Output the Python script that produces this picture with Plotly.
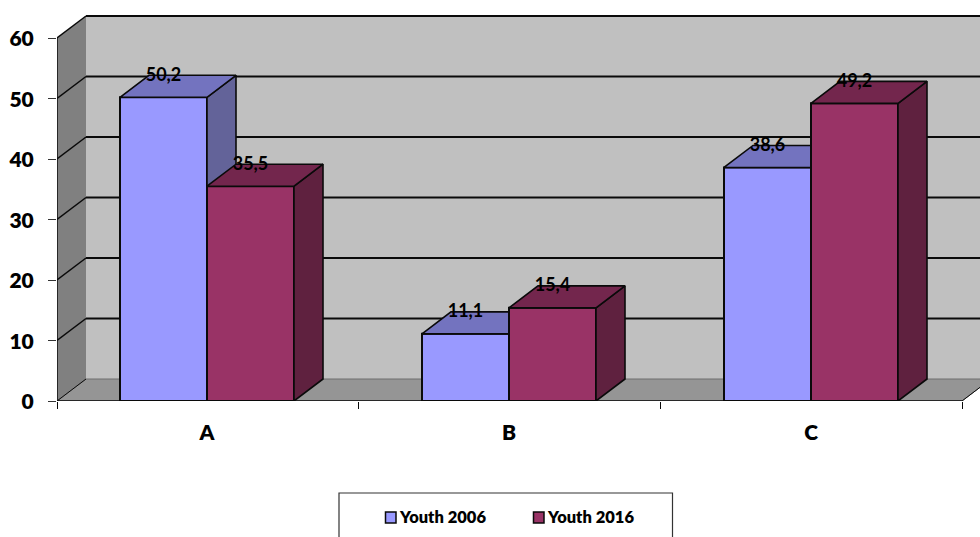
import plotly.graph_objects as go

categories = ["A", "B", "C"]
youth_2006 = [50.2, 11.1, 38.6]
youth_2016 = [35.5, 15.4, 49.2]
value_ticks = [0, 10, 20, 30, 40, 50, 60]
series_names = ["Youth 2006", "Youth 2016"]

WIDTH, HEIGHT = 980, 537
LEFT, TOP, BOTTOM = 57, 10, 136
PX_PER_CAT = 302
PX_PER_VAL = 6.05
BAR_W = 87 / PX_PER_CAT
DX = 29 / PX_PER_CAT   # horizontal depth of the box, in category units
DY = 22 / PX_PER_VAL   # vertical depth of the box, in value units
X0, X1 = -150 / PX_PER_CAT, 2.5
XRANGE = [X0, X0 + (WIDTH - LEFT) / PX_PER_CAT]
YRANGE = [0, (HEIGHT - TOP - BOTTOM) / PX_PER_VAL]
PLOT_W, PLOT_H = WIDTH - LEFT, HEIGHT - TOP - BOTTOM

FONT = "Lato, 'Liberation Sans', sans-serif"
INK = "#0a0a0a"
FILLS_2006 = ("#9999FF", "#636399", "#7373BF")
FILLS_2016 = ("#993366", "#5F213F", "#73264D")


def poly(points):
    return "M" + "L".join(f"{x},{y}" for x, y in points) + "Z"


def faces(values, left_offset):
    """Outlines of the side and top faces of each bar in a series."""
    sx, sy, tx, ty = [], [], [], []
    for i, v in enumerate(values):
        l = i + left_offset
        r = l + BAR_W
        sx += [r, r + DX, r + DX, r, r, None]
        sy += [0, DY, v + DY, v, 0, None]
        tx += [l, l + DX, r + DX, r, l, None]
        ty += [v, v + DY, v + DY, v, v, None]
    return sx, sy, tx, ty


fig = go.Figure()


def add_series(name, values, fills, left_offset, xa, ya):
    fig.add_trace(go.Bar(
        name=name, x=list(range(len(values))), y=values,
        width=BAR_W, offset=left_offset, xaxis=xa, yaxis=ya,
        marker=dict(color=fills[0], line=dict(color=INK, width=2)),
        hoverinfo="skip", showlegend=False,
    ))
    sx, sy, tx, ty = faces(values, left_offset)
    for px, py, color in ((sx, sy, fills[1]), (tx, ty, fills[2])):
        fig.add_trace(go.Scatter(
            x=px, y=py, mode="lines", fill="toself", fillcolor=color,
            line=dict(color=INK, width=1.6), xaxis=xa, yaxis=ya,
            hoverinfo="skip", showlegend=False, cliponaxis=False,
        ))


# The later series sits on an overlaid subplot so its front face hides the
# side face of the bar to its left.
add_series(series_names[0], youth_2006, FILLS_2006, -BAR_W, "x", "y")
add_series(series_names[1], youth_2016, FILLS_2016, 0, "x2", "y2")

for values, offset in ((youth_2006, -BAR_W), (youth_2016, 0)):
    fig.add_trace(go.Scatter(
        x=[i + offset + BAR_W / 2 for i in range(len(values))],
        y=[v + DY - 0.15 for v in values],
        text=[f"{v:.1f}".replace(".", ",") for v in values],
        mode="text", textposition="middle center",
        textfont=dict(family=FONT, size=18, color="#000", weight="bold"),
        xaxis="x2", yaxis="y2", hoverinfo="skip", showlegend=False,
        cliponaxis=False,
    ))

# Box walls, floor and gridlines behind the bars
top = value_ticks[-1]
shapes = [
    dict(type="path", xref="x", yref="y", layer="below", line_width=0, fillcolor="#C0C0C0",
         path=poly([(X0 + DX, DY), (X1 + DX, DY), (X1 + DX, top + DY), (X0 + DX, top + DY)])),
    dict(type="path", xref="x", yref="y", layer="below", line_width=0, fillcolor="#808080",
         path=poly([(X0, 0), (X0 + DX, DY), (X0 + DX, top + DY), (X0, top)])),
    dict(type="path", xref="x", yref="y", layer="below", fillcolor="#959595",
         line=dict(color="#6e6e6e", width=1),
         path=poly([(X0, 0), (X1, 0), (X1 + DX, DY), (X0 + DX, DY)])),
    dict(type="line", xref="x", yref="y", layer="below", x0=X0, y0=0, x1=X0 + DX, y1=DY,
         line=dict(color=INK, width=1)),
    dict(type="line", xref="x", yref="y", layer="below", x0=X1, y0=0, x1=X1 + DX, y1=DY,
         line=dict(color=INK, width=1)),
    dict(type="line", xref="x", yref="y", layer="above", x0=X0, y0=0, x1=X1, y1=0,
         line=dict(color=INK, width=1.5)),
    dict(type="line", xref="x", yref="y", layer="above", x0=X0, y0=0, x1=X0, y1=top,
         line=dict(color=INK, width=1.5)),
]
for v in value_ticks[1:]:
    shapes.append(dict(type="line", xref="x", yref="y", layer="below",
                       x0=X0, y0=v, x1=X0 + DX, y1=v + DY, line=dict(color=INK, width=1.5)))
    shapes.append(dict(type="line", xref="x", yref="y", layer="below",
                       x0=X0 + DX, y0=v + DY, x1=X1 + DX, y1=v + DY, line=dict(color=INK, width=2)))


def px_x(p):
    return (p - LEFT) / PLOT_W


def px_y(p):
    return (HEIGHT - BOTTOM - p) / PLOT_H


# Legend frame and entries
shapes.append(dict(type="rect", xref="paper", yref="paper",
                   x0=px_x(339), x1=px_x(672.5), y0=px_y(560), y1=px_y(493),
                   line=dict(color="#333", width=1.2), fillcolor="rgba(0,0,0,0)"))
annotations = []
legend_pos = ((385, FILLS_2006[0]), (533, FILLS_2016[0]))
for name, (sw, color) in zip(series_names, legend_pos):
    shapes.append(dict(type="rect", xref="paper", yref="paper",
                       x0=px_x(sw + 0.5), x1=px_x(sw + 11), y0=px_y(523), y1=px_y(512),
                       line=dict(color=INK, width=1.5), fillcolor=color))
    annotations.append(dict(text=name, xref="paper", yref="paper", showarrow=False,
                            x=px_x(sw + 12), y=px_y(516.5), xanchor="left", yanchor="middle",
                            font=dict(family=FONT, size=16.5, color="#000", weight=800)))

fig.update_layout(
    width=WIDTH, height=HEIGHT, autosize=False,
    margin=dict(l=LEFT, r=0, t=TOP, b=BOTTOM, pad=0),
    paper_bgcolor="#fff", plot_bgcolor="rgba(0,0,0,0)",
    shapes=shapes, annotations=annotations, showlegend=False,
    xaxis=dict(
        range=XRANGE, showgrid=False, zeroline=False, showline=False,
        tickmode="array", tickvals=list(range(len(categories))), ticktext=categories, ticks="",
        ticklabelstandoff=17, tickfont=dict(family=FONT, size=21, color="#000", weight=800),
        minor=dict(tickmode="array", tickvals=[X0, 0.5, 1.5, X1], ticks="outside",
                   ticklen=7, tickcolor=INK, tickwidth=1, showgrid=False),
    ),
    yaxis=dict(
        range=YRANGE, showgrid=False, zeroline=False, showline=False,
        tickmode="array", tickvals=value_ticks, ticks="outside", ticklen=8, tickcolor="#333",
        tickwidth=1, ticklabelstandoff=10, ticklabelshift=1,
        tickfont=dict(family=FONT, size=21, color="#000", weight=800),
    ),
    xaxis2=dict(range=XRANGE, overlaying="x", visible=False),
    yaxis2=dict(range=YRANGE, overlaying="y", visible=False),
)

fig.write_html("out.html", config=dict(displayModeBar=False))
